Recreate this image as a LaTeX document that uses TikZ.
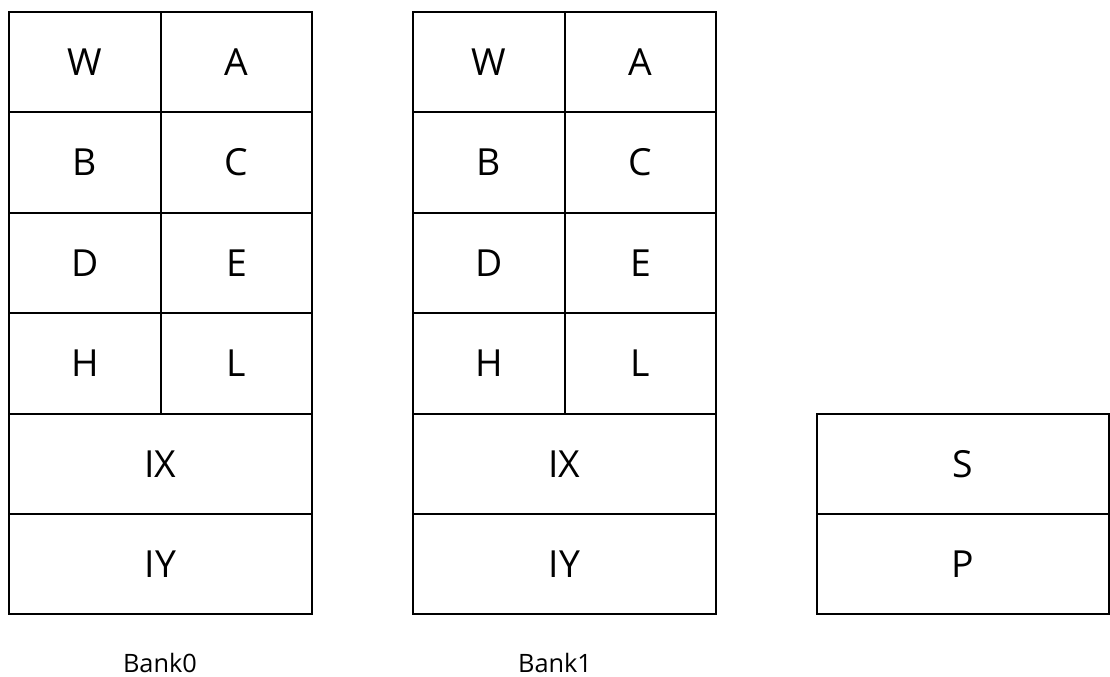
\documentclass[tikz,border=0pt]{standalone}
\usepackage{fontspec}
\setmainfont{Open Sans}
\begin{document}
\begin{tikzpicture}[x=0.75pt,y=-0.75pt,
  cell/.style={draw=black,line width=1.5pt,inner sep=0pt,font=\fontsize{28}{30}\selectfont},
  half/.style={cell,minimum width=113.5pt,minimum height=75.3pt},
  full/.style={cell,minimum width=227pt,minimum height=75.3pt},
  wide/.style={cell,minimum width=219pt,minimum height=75pt},
  banklbl/.style={inner sep=0pt,font=\fontsize{19}{21}\selectfont}]
\useasboundingbox (0,0) rectangle (1110,677);
% Bank0
\node[half] (b0w) at (85,62.2) {W};
\node[half] (b0a) at (236.5,62.2) {A};
\node[half] (b0b) at (85,162.6) {B};
\node[half] (b0c) at (236.5,162.6) {C};
\node[half] (b0d) at (85,263) {D};
\node[half] (b0e) at (236.5,263) {E};
\node[half] (b0h) at (85,363.4) {H};
\node[half] (b0l) at (236.5,363.4) {L};
\node[full] (b0ix) at (160.5,463.8) {IX};
\node[full] (b0iy) at (160.5,564) {IY};
% Bank1
\node[half] (b1w) at (489,62.2) {W};
\node[half] (b1a) at (640.5,62.2) {A};
\node[half] (b1b) at (489,162.6) {B};
\node[half] (b1c) at (640.5,162.6) {C};
\node[half] (b1d) at (489,263) {D};
\node[half] (b1e) at (640.5,263) {E};
\node[half] (b1h) at (489,363.4) {H};
\node[half] (b1l) at (640.5,363.4) {L};
\node[full] (b1ix) at (564.5,463.8) {IX};
\node[full] (b1iy) at (564.5,564) {IY};
% S / P
\node[wide] (s) at (963,463.8) {S};
\node[wide] (p) at (963,564) {P};
% labels
\node[banklbl] (lbl0) at (160,663) {Bank0};
\node[banklbl] (lbl1) at (555,663) {Bank1};
\end{tikzpicture}
\end{document}
